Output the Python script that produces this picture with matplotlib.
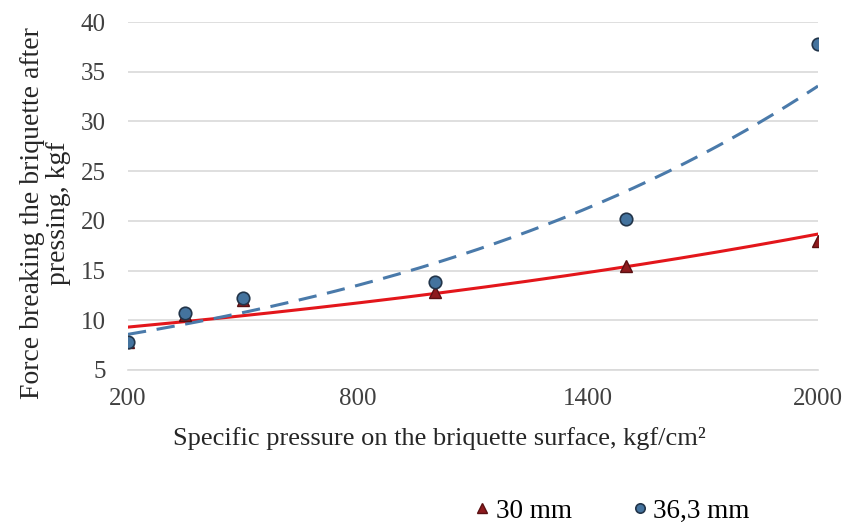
import matplotlib
matplotlib.use('Agg')
import matplotlib.pyplot as plt
import numpy as np

# data
pressure = [200, 350, 500, 1000, 1500, 2000]
force_30 = [7.8, 10.5, 12.0, 12.8, 15.5, 18.0]
force_36 = [7.8, 10.7, 12.2, 13.9, 20.2, 37.8]
labels = ['30 mm', '36,3 mm']

x_ticks = [200, 800, 1400, 2000]
y_ticks = [5, 10, 15, 20, 25, 30, 35, 40]

plt.rcParams['font.family'] = ['Liberation Serif', 'DejaVu Serif']


def exp_trend(x, y, xs):
	# Excel-style exponential trendline: ln(y) linear in x
	b, a = np.polyfit(x, np.log(y), 1)
	return np.exp(a + b * xs)


fig = plt.figure(figsize=(8.46, 5.24), dpi=100)
ax = fig.add_axes([0.1513, 0.2939, 0.8156, 0.664])

xs = np.linspace(pressure[0], pressure[-1], 200)
ax.plot(xs, exp_trend(pressure, force_30, xs), color='#E3161B', linewidth=2.2, zorder=3)
ax.plot(xs, exp_trend(pressure, force_36, xs), color='#4A7AAA', linewidth=2.2,
	linestyle=(0, (6, 3.5)), zorder=3)

ax.plot(pressure, force_30, linestyle='none', marker='^', markersize=9,
	color='#8E1B1E', markeredgecolor='#5A1012', label=labels[0], zorder=4)
ax.plot(pressure, force_36, linestyle='none', marker='o', markersize=9,
	color='#44739E', markeredgecolor='#22354A', markeredgewidth=1.2, label=labels[1], zorder=5)

ax.set_xlim(200, 2000)
ax.set_ylim(5, 40)
ax.set_xticks(x_ticks)
ax.set_yticks(y_ticks)
ax.tick_params(axis='both', length=0, labelsize=18, colors='#404040')
ax.tick_params(axis='y', pad=16)
ax.tick_params(axis='x', pad=13)
ax.grid(axis='y', color='#D9D9D9', linewidth=1.2)
ax.set_axisbelow(True)
for side in ['top', 'right', 'left']:
	ax.spines[side].set_visible(False)
ax.spines['bottom'].set_color('#D9D9D9')
ax.spines['bottom'].set_linewidth(1.2)

ax.set_xlabel('Specific pressure on the briquette surface, kgf/cm²', fontsize=19,
	color='#262626')
ax.xaxis.set_label_coords(0.451, -0.165)
ax.set_ylabel('Force breaking the briquette after\npressing, kgf', fontsize=20,
	color='#262626', linespacing=1.05)
ax.yaxis.set_label_coords(-0.083, 0.45)

fig.legend(loc='center', bbox_to_anchor=(0.72, 0.024), ncol=2, frameon=False,
	fontsize=19.5, handletextpad=0.0, columnspacing=2.0, handlelength=1.0,
	markerscale=0.75)

fig.savefig('out.png', dpi=100)
